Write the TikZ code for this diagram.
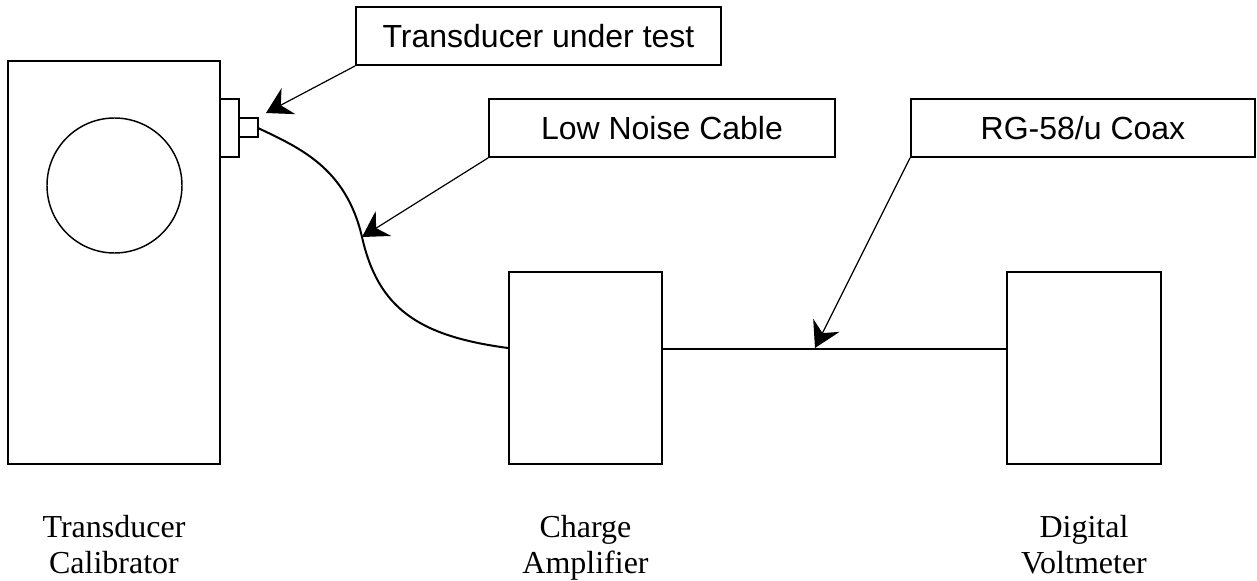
\documentclass[tikz,border=0pt]{standalone}
\usepackage{fontspec}
\setmainfont{Liberation Serif}
\setsansfont{Liberation Sans}
\usetikzlibrary{arrows.meta}
\begin{document}
\begin{tikzpicture}[x=0.75pt,y=-0.75pt,
  box/.style={draw,line width=1.4pt,inner sep=0pt},
  callout/.style={draw,line width=1.4pt,inner sep=0pt,font=\sffamily\fontsize{24}{28}\selectfont},
  lbl/.style={font=\fontsize{24}{27}\selectfont,align=center,inner sep=0pt},
  pointer/.style={line width=0.9pt,-{Stealth[length=19pt,width=22pt,inset=6.5pt]}},
  cable/.style={line width=1.5pt}]
\useasboundingbox (0,0) rectangle (1257,581);
% instruments
\draw[box] (8,61) rectangle (220,464);
\node[box,line width=1.1pt,circle,minimum size=101.25pt] (dial) at (114.5,185.5) {};
\draw[box] (220,99) rectangle (239,157);
\node[box,minimum width=14.25pt,minimum height=14.25pt] (xdcr) at (248.5,127.5) {};
\node[box,minimum width=114.75pt,minimum height=144pt] (amp) at (585.5,368) {};
\node[box,minimum width=115.5pt,minimum height=144pt] (dvm) at (1084,368) {};
% callouts
\node[callout,minimum width=273.75pt,minimum height=43.5pt] (tut) at (538.5,36) {Transducer under test};
\node[callout,minimum width=259.5pt,minimum height=43.5pt] (lnc) at (662,128) {Low Noise Cable};
\node[callout,minimum width=258pt,minimum height=43.5pt] (rg) at (1083,128) {RG-58/u Coax};
% cables
\coordinate (xout) at (258,128);
\coordinate (mid) at (362,237);
\coordinate (ampin) at (amp.west |- 0,348);
\draw[cable] (xout) .. controls (300,148) and (346,168) .. (mid)
  .. controls (378,308) and (418,336) .. (ampin);
\coordinate (ampout) at (amp.east |- 0,349);
\coordinate (dvmin) at (dvm.west |- 0,349);
\draw[cable] (ampout) -- (dvmin);
% pointers
\coordinate (tutTip) at (266,113);
\coordinate (rgTip) at (815,348);
\draw[pointer] (tut.south west) -- (tutTip);
\draw[pointer] (lnc.south west) -- (mid);
\draw[pointer] (rg.south west) -- (rgTip);
% labels
\node[lbl,anchor=base] (calLbl) at (114,573) {Transducer\\Calibrator};
\node[lbl,anchor=base] (ampLbl) at (585.5,573) {Charge\\Amplifier};
\node[lbl,anchor=base] (dvmLbl) at (1084,573) {Digital\\Voltmeter};
\end{tikzpicture}
\end{document}
